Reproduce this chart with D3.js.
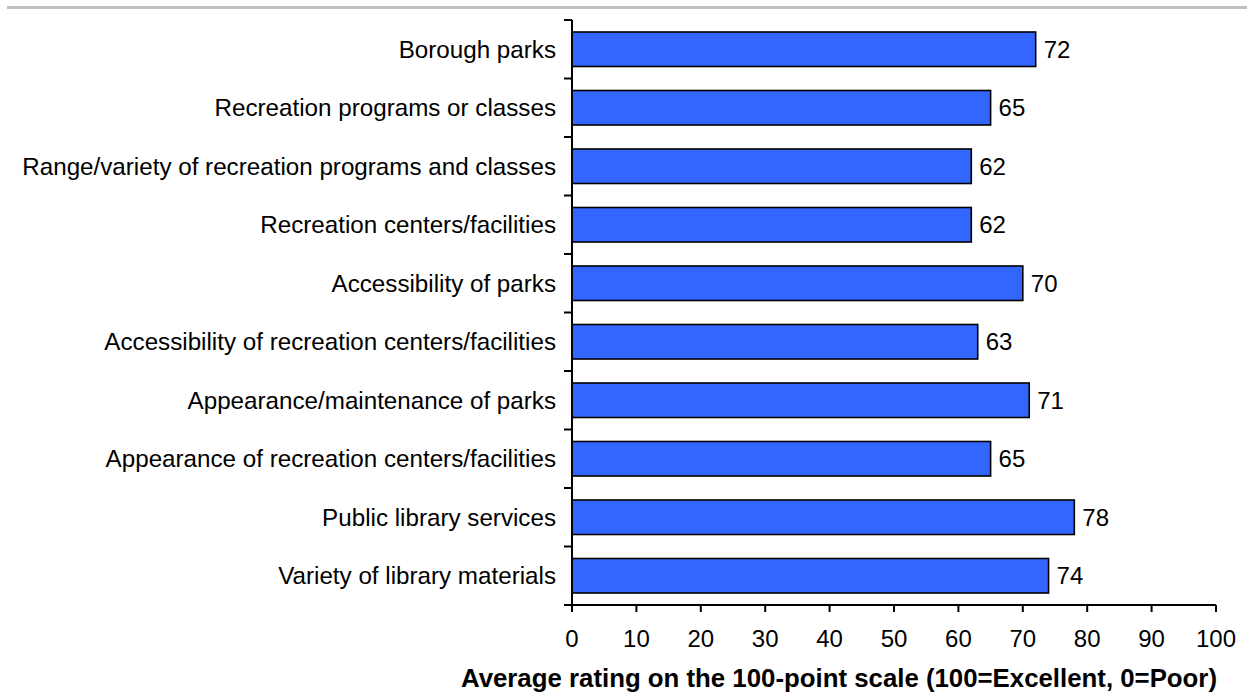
<!DOCTYPE html>
<html><head><meta charset="utf-8">
<script src="https://cdn.jsdelivr.net/npm/d3@7"></script>
<style>body{margin:0;background:#fff}svg{display:block}text{font-family:Arial,"Liberation Sans",sans-serif}</style>
</head><body>
<script>
const categories = ["Borough parks","Recreation programs or classes","Range/variety of recreation programs and classes","Recreation centers/facilities","Accessibility of parks","Accessibility of recreation centers/facilities","Appearance/maintenance of parks","Appearance of recreation centers/facilities","Public library services","Variety of library materials"];
const values = [72,65,62,62,70,63,71,65,78,74];
const xTicks = [0,10,20,30,40,50,60,70,80,90,100];
const xTitle = "Average rating on the 100-point scale (100=Excellent, 0=Poor)";

const W=1247,H=698;
const svg=d3.select("body").append("svg").attr("width",W).attr("height",H);
svg.append("rect").attr("x",7).attr("y",6).attr("width",W-7).attr("height",3).attr("fill","#c0c0c0");

const x=d3.scaleLinear().domain([0,100]).range([572,1216]);
const y=d3.scaleBand().domain(categories).range([20,605]).paddingInner(0.41).paddingOuter(0.205);
const yb=d3.scaleBand().domain(categories).range([20,605]);

// bars
svg.selectAll("rect.bar").data(categories).enter().append("rect")
 .attr("x",x(0)).attr("y",d=>y(d)).attr("width",(d,i)=>x(values[i])-x(0)).attr("height",y.bandwidth())
 .attr("fill","#3366ff").attr("stroke","#000").attr("stroke-width",1.6);

svg.selectAll("text.val").data(categories).enter().append("text")
 .attr("x",(d,i)=>x(values[i])+8).attr("y",d=>y(d)+y.bandwidth()/2).attr("dy","0.35em")
 .attr("font-size",24).attr("fill","#000").text((d,i)=>values[i]);

// y axis
const ga=svg.append("g").attr("stroke","#000").attr("stroke-width",2);
ga.append("line").attr("x1",x(0)).attr("x2",x(0)).attr("y1",20).attr("y2",605);
const bounds=categories.map(c=>yb(c)).concat([605]);
ga.selectAll("line.yt").data(bounds).enter().append("line").attr("x1",x(0)-8).attr("x2",x(0)).attr("y1",d=>d).attr("y2",d=>d);
svg.selectAll("text.cat").data(categories).enter().append("text")
 .attr("x",556).attr("y",d=>yb(d)+yb.bandwidth()/2).attr("dy","0.35em").attr("text-anchor","end")
 .attr("font-size",24.2).attr("fill","#000").text(d=>d);

// x axis
ga.append("line").attr("x1",x(0)).attr("x2",x(100)).attr("y1",605).attr("y2",605);
ga.selectAll("line.xt").data(xTicks).enter().append("line").attr("x1",d=>x(d)).attr("x2",d=>x(d)).attr("y1",605).attr("y2",612);
svg.selectAll("text.xl").data(xTicks).enter().append("text")
 .attr("x",d=>x(d)).attr("y",647).attr("text-anchor","middle").attr("font-size",24).attr("fill","#000").text(d=>d);

svg.append("text").attr("x",1217).attr("y",687).attr("text-anchor","end").attr("font-size",25.8).attr("font-weight","bold").attr("fill","#000").text(xTitle);
</script>
</body></html>
